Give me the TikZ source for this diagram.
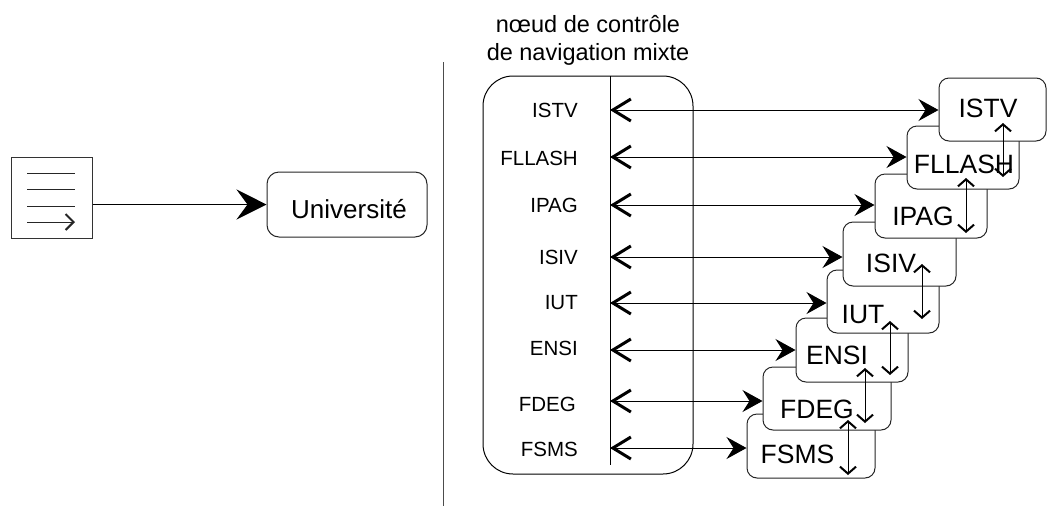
\documentclass[tikz,border=0pt]{standalone}
\usepackage{fontspec}
\setmainfont{Liberation Sans}
\usetikzlibrary{arrows.meta}
\tikzset{
  box/.style={draw=black!85, fill=white, line width=1pt, rounded corners=10pt,
    minimum width=#1, minimum height=63pt, inner sep=0pt},
  boxtext/.style={anchor=base, inner sep=0pt, font=\fontsize{26.5}{32}\selectfont},
  lefttext/.style={anchor=east, inner sep=0pt, font=\fontsize{20.5}{24}\selectfont},
  biarrow/.style={line width=1pt,
    {Straight Barb[length=18pt,width=22pt,line width=3pt]}-{Stealth[length=20pt,width=22pt,inset=7pt]}},
  smallbi/.style={line width=1pt,
    {Straight Barb[length=7pt,width=16pt,line width=2pt]}-{Straight Barb[length=7pt,width=16pt,line width=2pt]}},
  thin line/.style={draw=black!85, line width=1pt}
}
\begin{document}
\begin{tikzpicture}[x=1pt,y=-1pt]
\useasboundingbox (0,0) rectangle (1047,507);

% separator
\coordinate (sepTop) at (443,62);
\coordinate (sepBot) at (443,506);
\draw[draw=black!70, line width=1pt] (sepTop) -- (sepBot);

% document icon
\node[draw=black!80, line width=1pt, minimum width=81pt, minimum height=81pt, inner sep=0pt] (doc) at (51.5,197.5) {};
\coordinate (d1a) at (27,173); \coordinate (d1b) at (75,173);
\coordinate (d2a) at (27,189); \coordinate (d2b) at (75,189);
\coordinate (d3a) at (27,206); \coordinate (d3b) at (75,206);
\coordinate (d4a) at (27,222); \coordinate (d4b) at (75,222);
\draw[thin line] (d1a) -- (d1b);
\draw[thin line] (d2a) -- (d2b);
\draw[thin line] (d3a) -- (d3b);
\draw[thin line, -{Straight Barb[length=8pt,width=16pt,line width=2pt]}] (d4a) -- (d4b);

% Université
\node[draw=black!85, fill=white, line width=1pt, rounded corners=12pt, minimum width=160pt,
  minimum height=65pt, inner sep=0pt] (univ) at (347,204.5) {};
\node[boxtext, font=\fontsize{26}{31}\selectfont] (univtext) at (349,218) {Université};
\draw[line width=1pt, -{Stealth[length=30pt,width=30pt,inset=11pt]}] (doc.east |- univ.west) -- (univ.west);

% title
\node[anchor=base, align=center, inner sep=0pt, font=\fontsize{23.5}{28}\selectfont] (title) at (588,60)
  {nœud de contrôle\\de navigation mixte};

% container
\node[draw=black, line width=1pt, rounded corners=30pt, minimum width=210pt, minimum height=398pt,
  inner sep=0pt] (cont) at (588,275) {};
\coordinate (inTop) at (610,76);
\coordinate (inBot) at (610,465);
\draw[line width=1pt] (inTop) -- (inBot);

% left labels
\node[lefttext] (lISTV) at (578,110) {ISTV};
\node[lefttext] (lFLLASH) at (578,158) {FLLASH};
\node[lefttext] (lIPAG) at (578,205) {IPAG};
\node[lefttext] (lISIV) at (578,257) {ISIV};
\node[lefttext] (lIUT) at (578,303) {IUT};
\node[lefttext] (lENSI) at (578,348) {ENSI};
\node[lefttext] (lFDEG) at (576,404) {FDEG};
\node[lefttext] (lFSMS) at (578,449) {FSMS};

% right stack of boxes (bottom first so that upper boxes cover lower ones)
\node[box=128pt, minimum height=64pt] (bFSMS) at (811,446) {};
\node[box=128pt] (bFDEG) at (827,398.5) {};
\node[box=112pt, minimum height=64pt] (bENSI) at (852,350) {};
\node[box=112pt] (bIUT) at (883,301.5) {};
\node[box=113pt, minimum height=64pt] (bISIV) at (899.5,254) {};
\node[box=112pt, minimum height=64pt] (bIPAG) at (931,206) {};
\node[box=112pt] (bFLLASH) at (963,157.5) {};
\node[box=107pt] (bISTV) at (992.5,109.5) {};

\node[boxtext] (tISTV) at (988,117) {ISTV};
\node[boxtext] (tFLLASH) at (964,173) {FLLASH};
\node[boxtext] (tIPAG) at (923,225) {IPAG};
\node[boxtext] (tISIV) at (891,272) {ISIV};
\node[boxtext] (tIUT) at (863,323) {IUT};
\node[boxtext] (tENSI) at (837,364) {ENSI};
\node[boxtext] (tFDEG) at (817,418) {FDEG};
\node[boxtext] (tFSMS) at (797.5,463) {FSMS};

% horizontal connectors
\coordinate (p1) at (610,110);
\coordinate (p2) at (610,157);
\coordinate (p3) at (610,205);
\coordinate (p4) at (610,257);
\coordinate (p5) at (610,303);
\coordinate (p6) at (610,350);
\coordinate (p7) at (610,401);
\coordinate (p8) at (610,448);
\draw[biarrow] (p1) -- (p1 -| bISTV.west);
\draw[biarrow] (p2) -- (p2 -| bFLLASH.west);
\draw[biarrow] (p3) -- (p3 -| bIPAG.west);
\draw[biarrow] (p4) -- (p4 -| bISIV.west);
\draw[biarrow] (p5) -- (p5 -| bIUT.west);
\draw[biarrow] (p6) -- (p6 -| bENSI.west);
\draw[biarrow] (p7) -- (p7 -| bFDEG.west);
\draw[biarrow] (p8) -- (p8 -| bFSMS.west);

% vertical small double arrows
\coordinate (v1a) at (1003,123); \coordinate (v1b) at (1003,177);
\coordinate (v2a) at (966,178);  \coordinate (v2b) at (966,233);
\coordinate (v3a) at (922,264);  \coordinate (v3b) at (922,319);
\coordinate (v4a) at (890,321);  \coordinate (v4b) at (890,375);
\coordinate (v5a) at (865,368);  \coordinate (v5b) at (865,423);
\coordinate (v6a) at (848,420);  \coordinate (v6b) at (848,475);
\draw[smallbi] (v1a) -- (v1b);
\draw[smallbi] (v2a) -- (v2b);
\draw[smallbi] (v3a) -- (v3b);
\draw[smallbi] (v4a) -- (v4b);
\draw[smallbi] (v5a) -- (v5b);
\draw[smallbi] (v6a) -- (v6b);
\end{tikzpicture}
\end{document}
